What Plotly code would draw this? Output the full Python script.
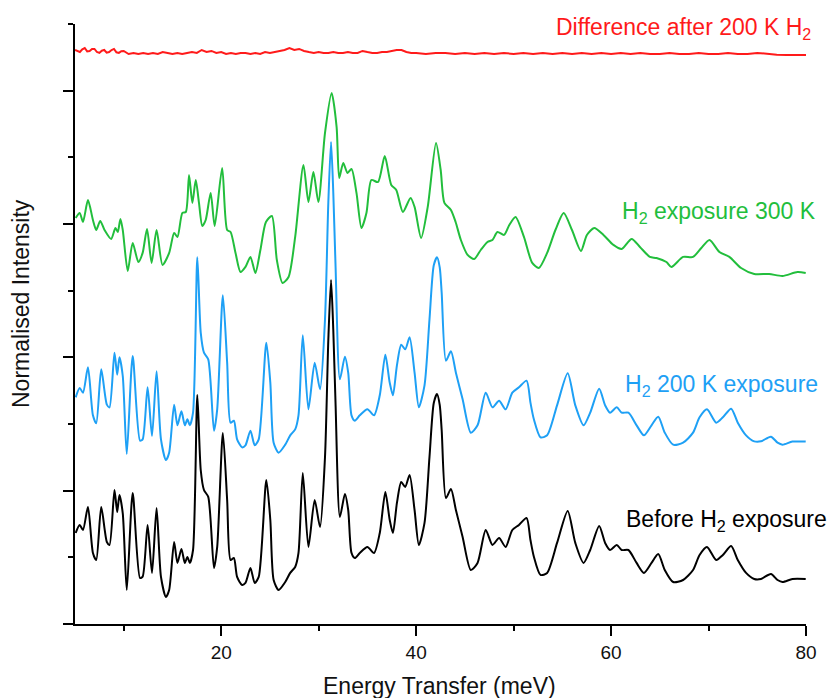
import plotly.graph_objects as go

# ---------------- data ----------------
black_E = [5.07, 5.48, 5.82, 6.33, 6.84, 7.18, 7.69, 8.27, 8.54, 9.05, 9.33, 9.56, 9.90, 10.31,
           10.92, 11.67, 11.94, 12.45, 12.90, 13.37, 13.82, 14.33, 14.66, 15.17, 15.51, 15.92,
           16.27, 16.53, 16.78, 17.11, 17.55, 17.90, 18.23, 18.67, 19.26, 19.59, 20.17, 20.61,
           20.96, 21.30, 21.63, 22.14, 22.49, 23.00, 23.44, 23.85, 24.63, 25.04, 25.38, 25.89,
           26.57, 27.08, 27.59, 27.93, 28.37, 28.95, 29.59, 30.14, 30.65, 30.99, 31.27, 31.50,
           31.73, 32.18, 32.69, 33.03, 33.37, 33.71, 34.22, 35.00, 35.68, 36.27, 36.84, 37.29,
           37.62, 38.03, 38.47, 38.88, 39.33, 39.84, 40.28, 40.86, 41.37, 41.81, 42.14, 42.42,
           42.62, 43.06, 43.57, 44.08, 44.77, 45.61, 46.30, 47.14, 47.83, 48.51, 49.18, 49.87,
           50.55, 51.33, 51.73, 52.08, 52.76, 53.44, 54.46, 55.55, 56.33, 57.18, 57.86, 58.78,
           59.39, 59.90, 60.58, 61.09, 61.78, 62.62, 63.37, 64.15, 64.84, 65.51, 66.37, 67.39,
           68.41, 69.08, 69.84, 70.79, 71.47, 72.32, 73.00, 73.85, 74.69, 75.38, 76.40, 77.08,
           77.59, 78.61, 79.97]
black_I = [0.683, 0.743, 0.705, 0.878, 0.533, 0.480, 0.878, 0.615, 0.593, 1.005, 0.840, 0.968, 0.830, 0.255,
           0.983, 0.345, 0.355, 0.743, 0.383, 0.870, 0.353, 0.203, 0.255, 0.615, 0.458, 0.563,
           0.458, 0.503, 0.458, 0.555, 1.718, 1.155, 1.005, 0.953, 0.420, 0.578, 1.433, 0.930,
           0.480, 0.495, 0.353, 0.293, 0.308, 0.420, 0.308, 0.353, 1.080, 0.780, 0.330, 0.255,
           0.315, 0.383, 0.428, 0.533, 1.133, 0.578, 0.930, 0.728, 1.253, 2.130, 2.580, 2.205,
           1.658, 0.803, 0.975, 0.855, 0.533, 0.495, 0.533, 0.578, 0.533, 0.683, 0.990, 0.780,
           0.683, 0.908, 1.065, 1.028, 1.118, 0.855, 0.593, 0.758, 1.253, 1.658, 1.725, 1.643,
           1.455, 0.945, 1.013, 0.855, 0.653, 0.405, 0.458, 0.705, 0.593, 0.645, 0.578, 0.705,
           0.743, 0.795, 0.630, 0.505, 0.368, 0.383, 0.608, 0.848, 0.608, 0.458, 0.555, 0.735,
           0.608, 0.555, 0.593, 0.555, 0.555, 0.458, 0.383, 0.458, 0.525, 0.405, 0.315, 0.330,
           0.405, 0.518, 0.578, 0.480, 0.518, 0.585, 0.480, 0.383, 0.338, 0.338, 0.375, 0.330,
           0.315, 0.338, 0.338]

blue_E = black_E
blue_I = [1.700, 1.770, 1.735, 1.925, 1.565, 1.505, 1.910, 1.645, 1.625, 2.035, 1.870, 2.000, 1.860, 1.275,
          2.010, 1.375, 1.385, 1.775, 1.410, 1.895, 1.385, 1.230, 1.285, 1.645, 1.490, 1.595,
          1.490, 1.535, 1.490, 1.585, 2.750, 2.185, 2.035, 1.985, 1.450, 1.610, 2.465, 1.960,
          1.510, 1.525, 1.385, 1.325, 1.340, 1.450, 1.340, 1.385, 2.110, 1.810, 1.360, 1.285,
          1.345, 1.415, 1.460, 1.565, 2.165, 1.610, 1.960, 1.760, 2.285, 3.160, 3.615, 3.235,
          2.690, 1.835, 2.005, 1.885, 1.565, 1.525, 1.565, 1.610, 1.565, 1.715, 2.020, 1.810,
          1.715, 1.940, 2.095, 2.060, 2.150, 1.885, 1.625, 1.790, 2.285, 2.690, 2.750, 2.675,
          2.485, 1.975, 2.045, 1.885, 1.685, 1.435, 1.490, 1.735, 1.625, 1.675, 1.610, 1.735,
          1.775, 1.825, 1.660, 1.535, 1.400, 1.415, 1.640, 1.880, 1.640, 1.490, 1.585, 1.765,
          1.640, 1.585, 1.625, 1.585, 1.585, 1.490, 1.415, 1.490, 1.555, 1.435, 1.345, 1.360,
          1.435, 1.550, 1.610, 1.510, 1.550, 1.615, 1.510, 1.415, 1.370, 1.370, 1.405, 1.360,
          1.345, 1.368, 1.368]

green_E = [5.07, 5.48, 5.82, 6.33, 6.84, 7.18, 7.59, 8.03, 8.71, 9.15, 9.39, 9.66, 9.90, 10.41,
           10.92, 11.50, 11.94, 12.39, 12.86, 13.37, 13.98, 14.66, 15.17, 15.51, 16.02, 16.37,
           16.70, 17.04, 17.39, 17.72, 18.06, 18.41, 18.92, 19.33, 20.10, 20.61, 20.96, 21.47,
           21.98, 22.49, 23.00, 23.51, 24.02, 24.59, 25.20, 25.71, 26.30, 26.91, 27.59, 28.44,
           28.95, 29.46, 29.97, 30.65, 31.33, 31.84, 32.11, 32.52, 32.96, 33.37, 33.88, 34.39,
           34.90, 35.41, 36.09, 36.78, 37.45, 37.96, 38.64, 39.43, 39.84, 40.51, 41.19, 42.04,
           42.52, 42.90, 43.57, 44.05, 44.59, 45.28, 45.96, 46.63, 47.32, 47.83, 48.34, 49.02,
           49.56, 50.20, 51.06, 51.91, 52.59, 53.44, 54.29, 55.14, 55.99, 56.91, 57.52, 58.27,
           59.22, 60.24, 61.09, 62.11, 62.96, 63.98, 64.66, 65.68, 66.19, 67.39, 68.41, 69.26,
           70.10, 71.12, 72.14, 73.34, 74.69, 76.22, 77.59, 79.12, 79.97]
green_I = [3.045, 3.083, 3.015, 3.180, 3.030, 2.955, 3.023, 2.955, 2.888, 2.970, 2.940, 3.038, 2.955, 2.648,
           2.858, 2.715, 2.783, 2.963, 2.708, 2.955, 2.693, 2.783, 2.933, 2.903, 3.083, 3.090,
           3.368, 3.158, 3.330, 3.158, 2.985, 3.030, 3.233, 2.985, 3.420, 2.955, 2.940, 2.783,
           2.640, 2.678, 2.753, 2.633, 2.805, 3.015, 3.060, 2.730, 2.558, 2.603, 2.903, 3.443,
           3.165, 3.390, 3.165, 3.683, 3.983, 3.728, 3.345, 3.458, 3.383, 3.413, 3.233, 2.970,
           3.083, 3.330, 3.315, 3.510, 3.293, 3.255, 3.090, 3.195, 3.128, 2.895, 3.128, 3.608,
           3.405, 3.158, 3.105, 3.015, 2.880, 2.768, 2.738, 2.805, 2.865, 2.880, 2.940, 2.918,
           2.993, 3.053, 2.903, 2.708, 2.670, 2.783, 2.955, 3.083, 2.955, 2.798, 2.918, 2.970,
           2.918, 2.843, 2.813, 2.888, 2.828, 2.753, 2.745, 2.715, 2.678, 2.753, 2.753, 2.820,
           2.880, 2.790, 2.753, 2.670, 2.625, 2.625, 2.610, 2.640, 2.633]

red_E = [5.0, 5.25, 5.5, 5.75, 6.0, 6.25, 6.5, 6.75, 7.0, 7.25, 7.5, 7.75, 8.0, 8.25, 8.5, 8.75,
         9.0, 9.25, 9.5, 9.75, 10.0, 10.5, 11.0, 11.5, 12.0, 12.5,
         13.0, 13.5, 14.0, 14.5, 15.0, 15.5, 16.0, 16.5, 17.0, 17.5, 18.0, 18.5, 19.0, 19.5,
         20.0, 20.5, 21.0, 21.5, 22.0, 22.5, 23.0, 23.5, 24.0, 24.5, 25.0, 25.5, 26.0, 26.5,
         27.0, 27.5, 28.0, 28.5, 29.0, 29.5, 30.0, 30.5, 31.0, 31.5, 32.0, 32.5, 33.0, 33.5,
         34.0, 34.5, 35.0, 35.5, 36.0, 36.5, 37.0, 37.5, 38.0, 38.5, 39.0, 39.5, 40.0, 41.0,
         42.0, 43.0, 44.0, 45.0, 46.0, 47.0, 48.0, 49.0, 50.0, 51.0, 52.0, 53.0, 54.0, 55.0,
         56.0, 57.0, 58.0, 59.0, 60.0, 61.0, 62.0, 63.0, 64.0, 65.0, 66.0, 67.0, 68.0, 69.0,
         70.0, 71.0, 72.0, 73.0, 74.0, 75.0, 76.0, 77.0, 78.0, 79.0, 80.0]
red_I = [4.305, 4.298, 4.290, 4.310, 4.320, 4.295, 4.298, 4.312, 4.313, 4.290, 4.283, 4.300,
         4.305, 4.285, 4.290, 4.305, 4.313, 4.288, 4.283, 4.296, 4.298, 4.275, 4.283, 4.275,
         4.283, 4.275, 4.283, 4.275, 4.290, 4.283, 4.275, 4.283, 4.275, 4.283, 4.290, 4.283, 4.305,
         4.290, 4.298, 4.283, 4.290, 4.275, 4.283, 4.275, 4.283, 4.283, 4.275, 4.283, 4.275, 4.290,
         4.283, 4.290, 4.298, 4.305, 4.320, 4.305, 4.313, 4.298, 4.290, 4.283, 4.290, 4.283, 4.283,
         4.290, 4.283, 4.283, 4.290, 4.283, 4.283, 4.298, 4.290, 4.283, 4.283, 4.290, 4.290, 4.298,
         4.305, 4.305, 4.290, 4.283, 4.283, 4.275, 4.283, 4.283, 4.275, 4.283, 4.275, 4.283, 4.275,
         4.283, 4.275, 4.283, 4.275, 4.283, 4.275, 4.283, 4.275, 4.283, 4.275, 4.283, 4.275, 4.283,
         4.275, 4.283, 4.275, 4.275, 4.283, 4.275, 4.275, 4.283, 4.275, 4.275, 4.283, 4.275, 4.275,
         4.283, 4.275, 4.270, 4.268, 4.270, 4.268]

series_names = ["Difference after 200 K H<sub>2</sub>", "H<sub>2</sub> exposure 300 K",
                "H<sub>2</sub> 200 K exposure", "Before H<sub>2</sub> exposure"]
series_colors = ["#FF1A1A", "#22BE3C", "#1EA0F5", "#000000"]

x_ticks = [20, 40, 60, 80]
x_minor = [10, 30, 50, 70]
y_ticks = [0, 1, 2, 3, 4]
y_minor = [0.5, 1.5, 2.5, 3.5, 4.5]

FONT = "Liberation Sans, Arial, sans-serif"

fig = go.Figure()
for E, I, name, col, shape in [(black_E, black_I, series_names[3], series_colors[3], "spline"),
                               (blue_E, blue_I, series_names[2], series_colors[2], "spline"),
                               (green_E, green_I, series_names[1], series_colors[1], "spline"),
                               (red_E, red_I, series_names[0], series_colors[0], "linear")]:
    fig.add_trace(go.Scatter(x=E, y=I, mode="lines", name=name,
                             line=dict(color=col, width=2, shape=shape, smoothing=0.7)))

# curve labels (paper coordinates, right-anchored)
label_pos = [(1.0096, 0.9933), (1.0163, 0.6858), (1.0187, 0.3976), (1.0318, 0.1724)]
for (lx, ly), name, col in zip(label_pos, series_names, series_colors):
    fig.add_annotation(x=lx, y=ly, xref="paper", yref="paper", text=name, showarrow=False,
                       xanchor="right", yanchor="middle",
                       font=dict(family=FONT, size=23, color=col))

# axis titles as annotations
fig.add_annotation(x=-0.0747, y=0.534, xref="paper", yref="paper", text="Normalised Intensity",
                   textangle=-90, showarrow=False, xanchor="center", yanchor="middle",
                   font=dict(family=FONT, size=23, color="#111"))
fig.add_annotation(x=0.499, y=-0.1033, xref="paper", yref="paper", text="Energy Transfer (meV)",
                   showarrow=False, xanchor="center", yanchor="middle",
                   font=dict(family=FONT, size=23, color="#111"))

fig.update_layout(
    width=829, height=698,
    margin=dict(l=75, r=18, t=24, b=74),
    plot_bgcolor="white", paper_bgcolor="white",
    showlegend=False,
    font=dict(family=FONT, color="#111"),
    xaxis=dict(range=[5, 80], tickvals=x_ticks, ticks="outside", ticklen=10, tickwidth=2,
               tickcolor="black", showline=True, linecolor="black", linewidth=2,
               showgrid=False, zeroline=False, tickfont=dict(family=FONT, size=19, color="#111"),
               minor=dict(tickvals=x_minor, ticks="outside", ticklen=5, tickwidth=2,
                          tickcolor="black", showgrid=False)),
    yaxis=dict(range=[0, 4.5], tickvals=y_ticks, showticklabels=False, ticks="outside",
               ticklen=10, tickwidth=2, tickcolor="black", showline=True, linecolor="black",
               linewidth=2, showgrid=False, zeroline=False,
               minor=dict(tickvals=y_minor, ticks="outside", ticklen=5, tickwidth=2,
                          tickcolor="black", showgrid=False)),
)

fig.write_html("out.html", config={"displayModeBar": False},
               post_script="document.body.style.margin='0';document.body.style.overflow='hidden';")
